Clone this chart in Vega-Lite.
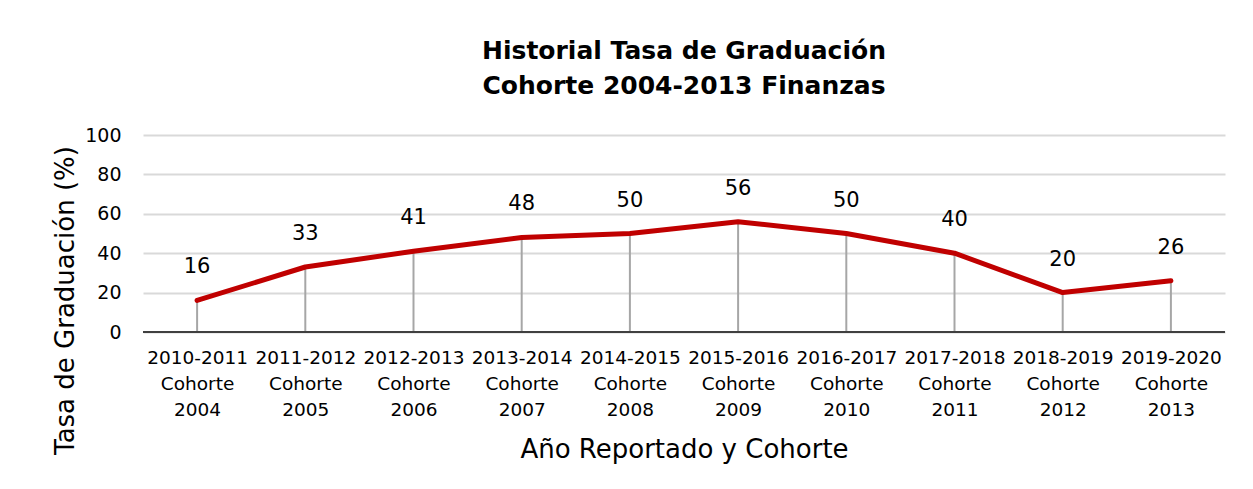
{
  "$schema": "https://vega.github.io/schema/vega-lite/v6.json",
  "autosize": {"type": "none"},
  "width": 1082,
  "height": 197,
  "padding": {"left": 143, "top": 135, "right": 28, "bottom": 157},
  "background": "white",
  "title": {
    "text": ["Historial Tasa de Graduación", "Cohorte 2004-2013 Finanzas"],
    "font": "DejaVu Sans",
    "fontSize": 25,
    "fontWeight": "bold",
    "color": "#000000",
    "anchor": "middle",
    "lineHeight": 35,
    "offset": 27
  },
  "data": {
    "values": [
      {"periodo": "2010-2011|Cohorte|2004", "tasa": 16},
      {"periodo": "2011-2012|Cohorte|2005", "tasa": 33},
      {"periodo": "2012-2013|Cohorte|2006", "tasa": 41},
      {"periodo": "2013-2014|Cohorte|2007", "tasa": 48},
      {"periodo": "2014-2015|Cohorte|2008", "tasa": 50},
      {"periodo": "2015-2016|Cohorte|2009", "tasa": 56},
      {"periodo": "2016-2017|Cohorte|2010", "tasa": 50},
      {"periodo": "2017-2018|Cohorte|2011", "tasa": 40},
      {"periodo": "2018-2019|Cohorte|2012", "tasa": 20},
      {"periodo": "2019-2020|Cohorte|2013", "tasa": 26}
    ]
  },
  "encoding": {
    "x": {
      "field": "periodo",
      "type": "ordinal",
      "sort": null,
      "scale": {"type": "point", "padding": 0.5},
      "axis": {
        "title": "Año Reportado y Cohorte",
        "titleFont": "DejaVu Sans",
        "titleFontSize": 26,
        "titleFontWeight": "normal",
        "titleColor": "#000000",
        "titlePadding": 18,
        "labelExpr": "split(datum.value, '|')",
        "labelAngle": 0,
        "labelFont": "DejaVu Sans",
        "labelFontSize": 18.5,
        "labelColor": "#000000",
        "labelLineHeight": 26,
        "labelPadding": 16,
        "ticks": false,
        "domain": false,
        "grid": false
      }
    },
    "y": {
      "field": "tasa",
      "type": "quantitative",
      "scale": {"domain": [0, 100], "nice": false},
      "axis": {
        "title": "Tasa de Graduación (%)",
        "titleFont": "DejaVu Sans",
        "titleFontSize": 26,
        "titleFontWeight": "normal",
        "titleColor": "#000000",
        "titleX": -78,
        "titleY": 165,
        "titleAngle": -90,
        "titleAlign": "center",
        "titleBaseline": "middle",
        "values": [0, 20, 40, 60, 80, 100],
        "labelFont": "DejaVu Sans",
        "labelFontSize": 19,
        "labelColor": "#000000",
        "labelPadding": 22,
        "ticks": false,
        "domain": false,
        "grid": true,
        "gridColor": "#D9D9D9",
        "gridWidth": 2
      }
    }
  },
  "layer": [
    {
      "mark": {"type": "rule", "color": "#A6A6A6", "strokeWidth": 2},
      "encoding": {"y2": {"datum": 0}}
    },
    {
      "mark": {"type": "rule", "color": "#404040", "strokeWidth": 2},
      "encoding": {"y": {"datum": 0}, "x": {}}
    },
    {
      "mark": {"type": "line", "color": "#C00000", "strokeWidth": 5, "strokeCap": "round", "strokeJoin": "round"}
    },
    {
      "mark": {"type": "text", "font": "DejaVu Sans", "fontSize": 21, "color": "#000000", "dy": -33, "baseline": "middle"},
      "encoding": {"text": {"field": "tasa", "type": "quantitative"}}
    }
  ],
  "config": {"view": {"stroke": null}}
}
